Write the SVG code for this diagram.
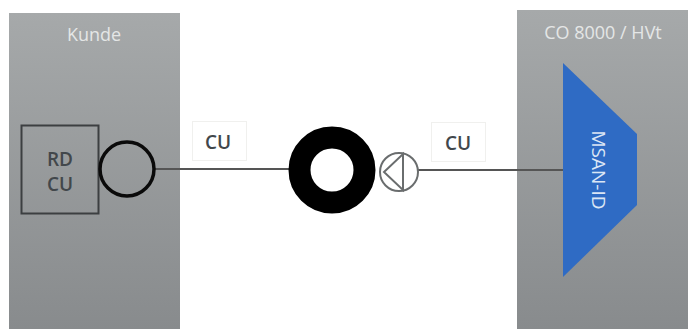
<svg xmlns="http://www.w3.org/2000/svg" width="688" height="329" viewBox="0 0 688 329">
<style>
text{font-family:"Open Sans","Noto Sans","Liberation Sans",sans-serif;text-anchor:middle}
.panel{fill:url(#g)}
.w{fill:#e4e6e6;font-size:18px}
.d{fill:#42474b;font-size:19px;font-weight:600}
.tag{fill:#fff;stroke:#f0f0ee;stroke-width:1}
.cn{stroke:#555;stroke-width:2;fill:none}
</style>
<defs><linearGradient id="g" x1="0" y1="0" x2="0" y2="1"><stop offset="0" stop-color="#a6a9aa"/><stop offset="1" stop-color="#888b8d"/></linearGradient></defs>
<rect width="688" height="329" fill="#fff"/>
<g id="kunde"><rect class="panel" x="9" y="13" width="171" height="316"/><text class="w" x="94" y="41">Kunde</text></g>
<g id="co"><rect class="panel" x="517" y="10" width="171" height="319"/><text class="w" x="603" y="39">CO 8000 / HVt</text></g>
<g id="connectors">
<path class="cn" d="M155 169H292"/>
<path class="cn" d="M417 170H564"/>
</g>
<g id="rd-cu"><rect x="21.500" y="125.500" width="77" height="88" fill="none" stroke="#3c3f41" stroke-width="2"/><text class="d" x="60" y="166">RD</text><text class="d" x="60" y="191">CU</text></g>
<g id="kunde-circle"><circle cx="127" cy="169" r="27" fill="none" stroke="#0a0a0a" stroke-width="3.500"/></g>
<g id="tag-left"><rect class="tag" x="192.500" y="121.500" width="54" height="39"/><text class="d" x="218" y="149">CU</text></g>
<g id="ring"><circle cx="332" cy="170" r="32.500" fill="none" stroke="#000" stroke-width="22"/></g>
<g id="pump"><circle cx="399" cy="172" r="19" fill="#fff" stroke="#6a6d6e" stroke-width="2"/><path d="M403 154V190L384 172Z" fill="none" stroke="#6a6d6e" stroke-width="2"/></g>
<g id="tag-right"><rect class="tag" x="431.500" y="122.500" width="54" height="39"/><text class="d" x="458" y="150">CU</text></g>
<g id="msan"><polygon points="563,63 637,134 637,205 563,277" fill="#2f6bc4"/><text x="598" y="170" transform="rotate(90 598 170)" dy="6" fill="#dbe6f5" style="font-size:19px">MSAN-ID</text></g>
</svg>
